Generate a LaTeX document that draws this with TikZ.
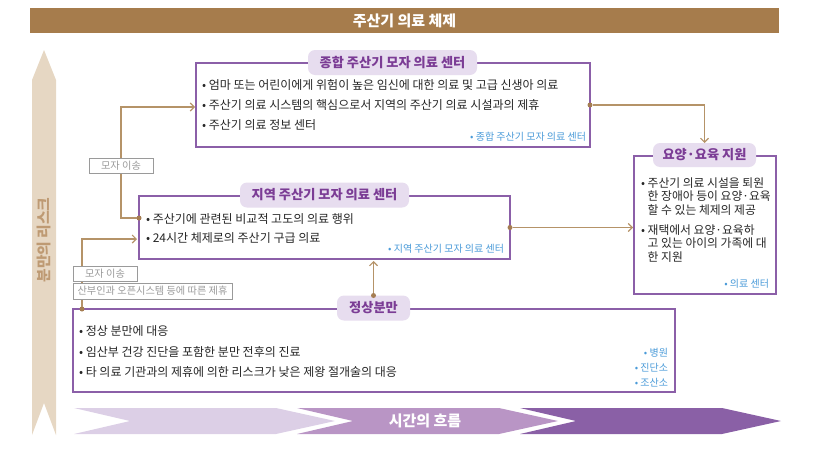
\documentclass[tikz,border=0pt]{standalone}
\usepackage{fontspec}
\setmainfont{Noto Sans CJK KR}
\usetikzlibrary{arrows.meta,positioning}
\definecolor{brownbar}{HTML}{A67C4C}
\definecolor{arrowbeige}{HTML}{E6D7C3}
\definecolor{arrowtext}{HTML}{BE9A73}
\definecolor{framepurple}{HTML}{8B5FA8}
\definecolor{pillfill}{HTML}{E7DDEF}
\definecolor{titlepurple}{HTML}{7B3C95}
\definecolor{bodytext}{HTML}{262626}
\definecolor{noteblue}{HTML}{4A9BD9}
\definecolor{linkbrown}{HTML}{B59368}
\definecolor{dotbrown}{HTML}{A57D52}
\definecolor{taggray}{HTML}{9A9A9A}
\definecolor{chevA}{HTML}{DCCFE6}
\definecolor{chevB}{HTML}{B995C5}
\definecolor{chevC}{HTML}{8A60A6}
\begin{document}
\begin{tikzpicture}[x=1pt,y=-1pt,
  every node/.style = {inner sep=0pt, outer sep=0pt},
  frame/.style = {draw=framepurple, line width=1.2pt, fill=white},
  pill/.style = {fill=pillfill, rounded corners=7pt, text=titlepurple,
    font=\bfseries\fontsize{13.2}{15}\selectfont, minimum height=25pt},
  bullets/.style = {align=left, text=bodytext, font=\fontsize{12}{20}\selectfont},
  note/.style = {text=noteblue, font=\fontsize{10}{11}\selectfont},
  link/.style = {draw=linkbrown, line width=1.1pt, -{Straight Barb[length=4pt,width=8pt]}},
  tag/.style = {draw=taggray, fill=white, line width=0.9pt, text=taggray,
    font=\fontsize{10.2}{11}\selectfont, minimum height=15pt},
  dot/.style = {circle, fill=dotbrown, minimum size=5pt}]
  \useasboundingbox (0,0) rectangle (837,455);
  % title bar
  \node[fill=brownbar, text=white, font=\bfseries\fontsize{15}{16}\selectfont,
    minimum width=749pt, minimum height=25pt] (title) at (404.5,20.5) {주산기 의료 체제};
  % risk arrow
  \fill[arrowbeige] (32,80) -- (44,50) -- (56,80) -- (56,435) -- (44,403) -- (32,435) -- cycle;
  \node[rotate=90, text=arrowtext, font=\bfseries\fontsize{14.8}{16}\selectfont] (risk) at (44,240) {분만의 리스크};
  % time arrow
  \foreach \dx/\col in {0/chevA, 223/chevB, 446/chevC}
    \fill[\col] (74+\dx,408) -- (276+\dx,408) -- (335+\dx,421) -- (276+\dx,434)
      -- (74+\dx,434) -- (130+\dx,421) -- cycle;
  \node[text=white, font=\bfseries\fontsize{15}{16}\selectfont] (time) at (425,421) {시간의 흐름};

  % general centre
  \node[frame, minimum width=394pt, minimum height=84pt] (general) at (393,105) {};
  \node[pill, minimum width=169pt] (generalpill) at (392.5,62.5) {종합 주산기 모자 의료 센터};
  \node[bullets, anchor=west] (generaltext) at (202,105)
    {• 엄마 또는 어린이에게 위험이 높은 임신에 대한 의료 및 고급 신생아 의료\\
     • 주산기 의료 시스템의 핵심으로서 지역의 주산기 의료 시설과의 제휴\\
     • 주산기 의료 정보 센터};
  \node[note, anchor=east] (generalnote) at (586,137) {• 종합 주산기 모자 의료 센터};

  % regional centre
  \node[frame, minimum width=371pt, minimum height=63pt] (regional) at (324.5,227.5) {};
  \node[pill, minimum width=169pt] (regionalpill) at (324.5,195) {지역 주산기 모자 의료 센터};
  \node[bullets, anchor=west, font=\fontsize{12}{19}\selectfont] (regionaltext) at (146,228.5)
    {• 주산기에 관련된 비교적 고도의 의료 행위\\
     • 24시간 체제로의 주산기 구급 의료};
  \node[note, anchor=east] (regionalnote) at (504,249) {• 지역 주산기 모자 의료 센터};

  % normal delivery
  \node[frame, minimum width=602pt, minimum height=83pt] (normal) at (374,350.5) {};
  \node[pill, minimum width=73pt] (normalpill) at (373.5,308) {정상분만};
  \node[bullets, anchor=west, font=\fontsize{12}{20.5}\selectfont] (normaltext) at (79,352)
    {• 정상 분만에 대응\\
     • 임산부 건강 진단을 포함한 분만 전후의 진료\\
     • 타 의료 기관과의 제휴에 의한 리스크가 낮은 제왕 절개술의 대응};
  \node[note, anchor=east] (hospital) at (668,353) {• 병원};
  \node[note, anchor=east] (clinic) at (668,368) {• 진단소};
  \node[note, anchor=east] (midwife) at (668,383) {• 조산소};

  % care support
  \node[frame, minimum width=142pt, minimum height=138pt] (care) at (705,225) {};
  \node[pill, minimum width=103pt, minimum height=24pt] (carepill) at (704.5,155) {요양·요육 지원};
  \node[bullets, anchor=north west, font=\fontsize{11.8}{13.5}\selectfont] (caretext) at (641,177.5)
    {• 주산기 의료 시설을 퇴원\\
     \phantom{• }한 장애아 등이 요양·요육\\
     \phantom{• }할 수 있는 체제의 제공\\[6.5pt]
     • 재택에서 요양·요육하\\
     \phantom{• }고 있는 아이의 가족에 대\\
     \phantom{• }한 지원};
  \node[note, anchor=east] (carenote) at (769,284) {• 의료 센터};

  % connectors
  \coordinate (bendA) at (121,107);
  \coordinate (bendB) at (82,239);
  \node[dot] (generaldot) at (general.east) {};
  \node[dot] (regionaldot) at (regional.east) {};
  \node[dot] (regionalin) at (139,218) {};
  \node[dot] (normaldot) at (82,309) {};
  \node[dot] (normaltop) at (normalpill.north) {};
  \draw[link] (generaldot) -| (carepill.north);
  \draw[link, shorten >=1pt] (regionaldot) -- (care.west |- regionaldot);
  \draw[link, shorten >=1pt] (regionalin) -| (bendA) -- (general.west |- bendA);
  \draw[link, shorten >=2pt] (normaldot) -- (bendB) -- (regional.west |- bendB);
  \draw[link, shorten >=2pt] (normaltop) -- (normaltop |- regional.south);
  \node[tag, minimum width=64pt] (transferA) at (121,165.5) {모자 이송};
  \node[tag, minimum width=64pt, anchor=west] (transferB) at (73,273.5) {모자 이송};
  \node[tag, minimum width=159pt, minimum height=16pt, anchor=west] (openSys) at (73,291) {산부인과 오픈시스템 등에 따른 제휴};
\end{tikzpicture}
\end{document}
